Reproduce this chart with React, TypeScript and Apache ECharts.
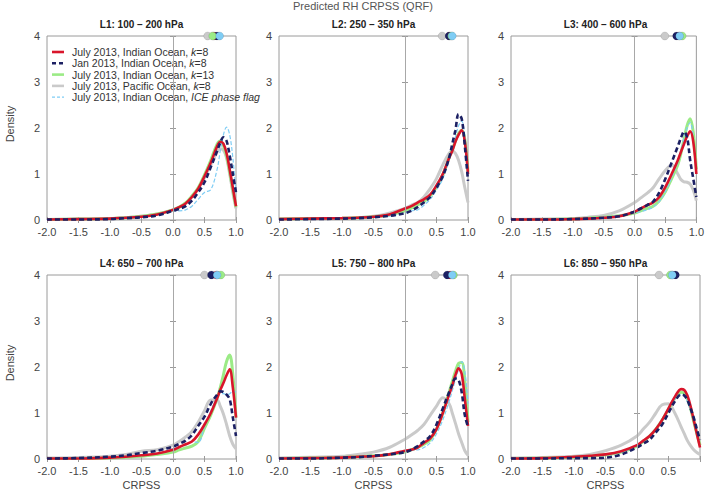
import React, { useEffect, useRef } from "react";
import * as echarts from "echarts";

// ---------- data ----------
const X = [-2.0, -1.5, -1.0, -0.75, -0.5, -0.25, 0.0, 0.1, 0.2, 0.3, 0.4, 0.5, 0.6, 0.7, 0.75, 0.8, 0.85, 0.9, 0.95, 1.0];

const MAIN_TITLE = "Predicted RH CRPSS (QRF)";
const PANEL_TITLES = [
  "L1: 100 \u2013 200 hPa",
  "L2: 250 \u2013 350 hPa",
  "L3: 400 \u2013 600 hPa",
  "L4: 650 \u2013 700 hPa",
  "L5: 750 \u2013 800 hPa",
  "L6: 850 \u2013 950 hPa",
];
const X_NAME = "CRPSS";
const Y_NAME = "Density";

const NAMES = [
  "July 2013, Indian Ocean, k=8",
  "Jan 2013, Indian Ocean, k=8",
  "July 2013, Indian Ocean, k=13",
  "July 2013, Pacific Ocean, k=8",
  "July 2013, Indian Ocean, ICE phase flag",
];

// densities per panel (L1..L6), sampled at X
const RED = [
  [0.01, 0.02, 0.03, 0.05, 0.07, 0.12, 0.22, 0.28, 0.36, 0.5, 0.68, 0.95, 1.25, 1.6, 1.7, 1.66, 1.45, 1.1, 0.7, 0.3],
  [0.02, 0.03, 0.04, 0.05, 0.07, 0.12, 0.25, 0.3, 0.38, 0.45, 0.55, 0.75, 1.0, 1.35, 1.5, 1.7, 1.85, 1.95, 1.7, 1.0],
  [0.01, 0.01, 0.02, 0.03, 0.05, 0.08, 0.18, 0.25, 0.32, 0.38, 0.5, 0.72, 1.0, 1.3, 1.48, 1.65, 1.82, 1.93, 1.7, 1.0],
  [0.01, 0.01, 0.03, 0.05, 0.08, 0.12, 0.2, 0.26, 0.32, 0.38, 0.53, 0.75, 1.0, 1.32, 1.5, 1.65, 1.82, 1.95, 1.55, 0.9],
  [0.01, 0.02, 0.03, 0.05, 0.06, 0.1, 0.18, 0.2, 0.25, 0.35, 0.45, 0.65, 1.0, 1.4, 1.6, 1.82, 1.97, 1.85, 1.3, 0.72],
  [0.01, 0.02, 0.05, 0.07, 0.1, 0.17, 0.3, 0.4, 0.5, 0.65, 0.85, 1.1, 1.35, 1.52, 1.5, 1.38, 1.15, 0.85, 0.55, 0.25],
];
const NAVY = [
  [0.01, 0.01, 0.02, 0.04, 0.06, 0.1, 0.2, 0.24, 0.3, 0.42, 0.6, 0.82, 1.15, 1.5, 1.68, 1.8, 1.72, 1.4, 1.0, 0.6],
  [0.01, 0.02, 0.03, 0.04, 0.06, 0.09, 0.15, 0.2, 0.28, 0.38, 0.5, 0.7, 0.95, 1.35, 1.65, 1.95, 2.3, 2.2, 1.6, 0.85],
  [0.01, 0.01, 0.02, 0.03, 0.05, 0.08, 0.18, 0.25, 0.32, 0.4, 0.6, 0.9, 1.25, 1.6, 1.78, 1.92, 1.8, 1.3, 0.9, 0.5],
  [0.01, 0.02, 0.05, 0.08, 0.13, 0.18, 0.27, 0.33, 0.4, 0.52, 0.72, 0.92, 1.2, 1.4, 1.47, 1.46, 1.4, 1.3, 0.9, 0.5],
  [0.01, 0.01, 0.03, 0.04, 0.07, 0.1, 0.15, 0.2, 0.28, 0.38, 0.5, 0.75, 1.1, 1.45, 1.62, 1.75, 1.72, 1.45, 0.95, 0.7],
  [0.01, 0.01, 0.02, 0.02, 0.03, 0.1, 0.25, 0.33, 0.42, 0.58, 0.75, 1.0, 1.25, 1.4, 1.38, 1.28, 1.1, 0.9, 0.65, 0.42],
];
const GREEN = [
  [0.01, 0.02, 0.03, 0.05, 0.08, 0.13, 0.22, 0.28, 0.37, 0.52, 0.7, 0.98, 1.3, 1.65, 1.72, 1.62, 1.4, 1.05, 0.65, 0.28],
  [0.02, 0.03, 0.04, 0.05, 0.07, 0.11, 0.2, 0.26, 0.33, 0.4, 0.52, 0.72, 0.98, 1.35, 1.52, 1.72, 1.88, 1.95, 1.75, 1.05],
  [0.01, 0.01, 0.02, 0.04, 0.06, 0.09, 0.15, 0.2, 0.25, 0.3, 0.42, 0.62, 0.9, 1.2, 1.45, 1.75, 2.05, 2.2, 1.9, 1.1],
  [0.01, 0.01, 0.02, 0.04, 0.06, 0.1, 0.15, 0.2, 0.24, 0.28, 0.38, 0.67, 0.96, 1.32, 1.55, 1.83, 2.12, 2.26, 1.83, 0.9],
  [0.01, 0.02, 0.03, 0.05, 0.07, 0.1, 0.15, 0.2, 0.25, 0.32, 0.42, 0.65, 1.0, 1.45, 1.68, 1.9, 2.08, 2.1, 1.7, 0.8],
  [0.01, 0.02, 0.04, 0.06, 0.09, 0.15, 0.28, 0.38, 0.5, 0.65, 0.85, 1.08, 1.32, 1.45, 1.42, 1.3, 1.1, 0.82, 0.55, 0.3],
];
const GRAY = [
  [0.01, 0.02, 0.03, 0.05, 0.08, 0.13, 0.22, 0.28, 0.36, 0.5, 0.68, 0.92, 1.2, 1.48, 1.55, 1.52, 1.35, 1.0, 0.6, 0.25],
  [0.02, 0.03, 0.03, 0.05, 0.08, 0.15, 0.25, 0.32, 0.38, 0.5, 0.68, 0.9, 1.2, 1.45, 1.5, 1.45, 1.3, 1.05, 0.7, 0.38],
  [0.01, 0.02, 0.03, 0.06, 0.1, 0.2, 0.38, 0.48, 0.58, 0.7, 0.9, 1.08, 1.2, 1.0, 0.88, 0.83, 0.82, 0.78, 0.65, 0.42],
  [0.02, 0.03, 0.06, 0.1, 0.17, 0.2, 0.3, 0.38, 0.48, 0.6, 0.8, 1.05, 1.28, 1.28, 1.15, 0.98, 0.75, 0.5, 0.32, 0.22],
  [0.02, 0.04, 0.06, 0.1, 0.15, 0.25, 0.43, 0.52, 0.62, 0.75, 0.95, 1.15, 1.33, 1.2, 1.0, 0.78, 0.55, 0.36, 0.18, 0.08],
  [0.02, 0.03, 0.06, 0.1, 0.18, 0.3, 0.5, 0.65, 0.8, 1.0, 1.18, 1.2, 1.0, 0.7, 0.55, 0.4, 0.29, 0.2, 0.14, 0.1],
];
const BLUE = [
  [0.01, 0.02, 0.04, 0.06, 0.08, 0.11, 0.2, 0.2, 0.22, 0.3, 0.45, 0.6, 0.66, 1.1, 1.5, 1.85, 2.02, 1.85, 1.35, 0.6],
  [0.01, 0.02, 0.03, 0.04, 0.06, 0.09, 0.15, 0.2, 0.22, 0.32, 0.45, 0.65, 0.9, 1.3, 1.55, 1.8, 2.05, 2.15, 1.8, 1.0],
  [0.01, 0.01, 0.02, 0.04, 0.07, 0.1, 0.15, 0.18, 0.22, 0.28, 0.4, 0.62, 0.92, 1.25, 1.5, 1.78, 2.0, 2.12, 1.8, 1.0],
  [0.01, 0.02, 0.03, 0.05, 0.08, 0.12, 0.22, 0.27, 0.3, 0.38, 0.36, 0.7, 1.05, 1.35, 1.42, 1.42, 1.4, 1.42, 1.48, 1.45],
  [0.01, 0.02, 0.03, 0.04, 0.06, 0.1, 0.15, 0.2, 0.2, 0.25, 0.35, 0.55, 0.85, 1.25, 1.48, 1.72, 1.95, 2.12, 1.9, 1.2],
  [0.01, 0.02, 0.04, 0.06, 0.09, 0.15, 0.28, 0.38, 0.5, 0.65, 0.85, 1.08, 1.3, 1.4, 1.38, 1.25, 1.05, 0.8, 0.55, 0.3],
];

// median CRPSS markers on top of each panel
const MED_RED = [0.65, 0.71, 0.72, 0.69, 0.72, 0.56];
const MED_NAVY = [0.7, 0.7, 0.68, 0.61, 0.67, 0.61];
const MED_GREEN = [0.63, 0.74, 0.77, 0.76, 0.77, 0.53];
const MED_GRAY = [0.55, 0.59, 0.49, 0.5, 0.48, 0.35];
const MED_BLUE = [0.74, 0.75, 0.73, 0.7, 0.75, 0.56];
const MARK_Y = 4;

// ---------- styling ----------
const FONT = '"Liberation Sans Narrow", "Liberation Sans", Arial, sans-serif';
const FONT_REG = '"Liberation Sans", Arial, sans-serif';
const LEFTS = [47, 279, 511];
const TOPS = [36, 275];
const GW = 189;
const GH = 184;
const AXIS_C = "#9a9a9a";
const TEXT_C = "#444";

const STYLES = [
  { color: "#d9152b", width: 2.6, type: "solid" as any, dash: null as any },
  { color: "#1c2063", width: 2.6, type: [5, 3] as any, dash: [4, 3] },
  { color: "#9beb86", width: 3, type: "solid" as any, dash: null },
  { color: "#cacaca", width: 3, type: "solid" as any, dash: null },
  { color: "#7fcdf5", width: 1.2, type: [4, 2] as any, dash: [3, 2] },
];
const DATASETS = [RED, NAVY, GREEN, GRAY, BLUE];
const MEDIANS = [MED_RED, MED_NAVY, MED_GREEN, MED_GRAY, MED_BLUE];
const DRAW_ORDER = [3, 2, 4, 0, 1];

export default function App() {
  const ref = useRef<HTMLDivElement>(null);
  useEffect(() => {
    const chart = echarts.init(ref.current!, null, { renderer: "svg" });
    const grid: any[] = [];
    const xAxis: any[] = [];
    const yAxis: any[] = [];
    const series: any[] = [];
    const graphic: any[] = [];

    graphic.push({
      type: "text",
      x: 363,
      y: 6,
      style: { text: MAIN_TITLE, fontSize: 11, fontFamily: FONT_REG, fill: "#555", align: "center", verticalAlign: "middle" },
    });

    for (let i = 0; i < 6; i++) {
      const col = i % 3;
      const row = Math.floor(i / 3);
      grid.push({ left: LEFTS[col], top: TOPS[row], width: GW, height: GH, show: true, borderColor: AXIS_C, borderWidth: 1, backgroundColor: "transparent" });
      const tick = { show: true, length: 3, lineStyle: { color: AXIS_C, width: 1 } };
      xAxis.push({
        type: "value", gridIndex: i, min: -2, max: 1, interval: 0.5, position: "bottom",
        axisLine: { show: false }, axisTick: tick, splitLine: { show: false },
        axisLabel: {
          color: TEXT_C, fontSize: 11, fontFamily: FONT, margin: 6,
          formatter: (v: number) => (i === 5 && v === 1 ? "" : v.toFixed(1)),
        },
      });
      xAxis.push({
        type: "value", gridIndex: i, min: -2, max: 1, interval: 0.5, position: "top",
        axisLine: { show: false }, axisTick: tick, splitLine: { show: false }, axisLabel: { show: false },
      });
      yAxis.push({
        type: "value", gridIndex: i, min: 0, max: 4, interval: 1, position: "left",
        axisLine: { show: false }, axisTick: tick, splitLine: { show: false },
        axisLabel: { color: TEXT_C, fontSize: 11, fontFamily: FONT, margin: 7 },
      });
      yAxis.push({
        type: "value", gridIndex: i, min: 0, max: 4, interval: 1, position: "right",
        axisLine: { show: false }, axisTick: tick, splitLine: { show: false }, axisLabel: { show: false },
      });

      DRAW_ORDER.forEach((s, k) => {
        const vals = DATASETS[s][i];
        const ser: any = {
          type: "line", name: NAMES[s], xAxisIndex: 2 * i, yAxisIndex: 2 * i,
          data: X.map((x, j) => [x, vals[j]]),
          smooth: 0.35, showSymbol: false, symbol: "none",
          lineStyle: { color: STYLES[s].color, width: STYLES[s].width, type: STYLES[s].type },
          itemStyle: { color: STYLES[s].color },
          emphasis: { disabled: true },
        };
        if (k === 0) {
          ser.markLine = {
            silent: true, symbol: ["none", "none"], label: { show: false },
            lineStyle: { color: "#a8a8a8", width: 1, type: "solid" },
            data: [{ xAxis: 0 }],
          };
        }
        series.push(ser);
      });
      [3, 0, 1, 2, 4].forEach((s) => {
        series.push({
          type: "scatter", name: "med" + s + "_" + i, xAxisIndex: 2 * i, yAxisIndex: 2 * i,
          data: [[MEDIANS[s][i], MARK_Y]], symbolSize: 8, clip: false, z: 5,
          itemStyle: { color: STYLES[s].color, borderColor: "rgba(0,0,0,0.2)", borderWidth: 0.5, opacity: 1 },
          emphasis: { disabled: true },
        });
      });

      const cx = LEFTS[col] + GW / 2;
      graphic.push({
        type: "text", x: cx, y: row === 0 ? 24 : 263,
        style: { text: PANEL_TITLES[i], fontSize: 10, fontWeight: "bold", fontFamily: FONT_REG, fill: "#222", align: "center", verticalAlign: "middle" },
      });
      if (col === 0) {
        graphic.push({
          type: "text", x: 10, y: row === 0 ? 124 : 363, rotation: Math.PI / 2,
          style: { text: Y_NAME, fontSize: 11, fontFamily: FONT, fill: TEXT_C, align: "center", verticalAlign: "middle" },
        });
      }
      if (row === 1) {
        graphic.push({
          type: "text", x: cx, y: 485,
          style: { text: X_NAME, fontSize: 11, fontFamily: FONT, fill: TEXT_C, align: "center", verticalAlign: "middle" },
        });
      }
    }

    // legend (inside panel L1)
    const fmt = (name: string) => {
      if (name.endsWith("ICE phase flag")) return name.replace("ICE phase flag", "{i|ICE phase flag}");
      return name.replace(/k=(\d+)$/, "{i|k}=$1");
    };
    NAMES.forEach((name, s) => {
      const y = 52 + s * 11.3;
      const st = STYLES[s];
      graphic.push({
        type: "line", shape: { x1: 52, y1: y, x2: 64, y2: y },
        style: { stroke: st.color, lineWidth: Math.min(st.width, 2.6), lineDash: st.dash },
      });
      graphic.push({
        type: "text", x: 72, y,
        style: {
          text: fmt(name), fontSize: 10.5, fontFamily: FONT, fill: "#333", align: "left", verticalAlign: "middle",
          rich: { i: { fontSize: 10.5, fontFamily: FONT, fill: "#333", fontStyle: "italic" } },
        },
      });
    });

    chart.setOption({
      animation: false,
      backgroundColor: "#fff",
      grid, xAxis, yAxis, series, graphic,
    });
    return () => chart.dispose();
  }, []);
  return <div ref={ref} style={{ position: "fixed", left: 0, top: 0, width: 707, height: 492 }} />;
}
